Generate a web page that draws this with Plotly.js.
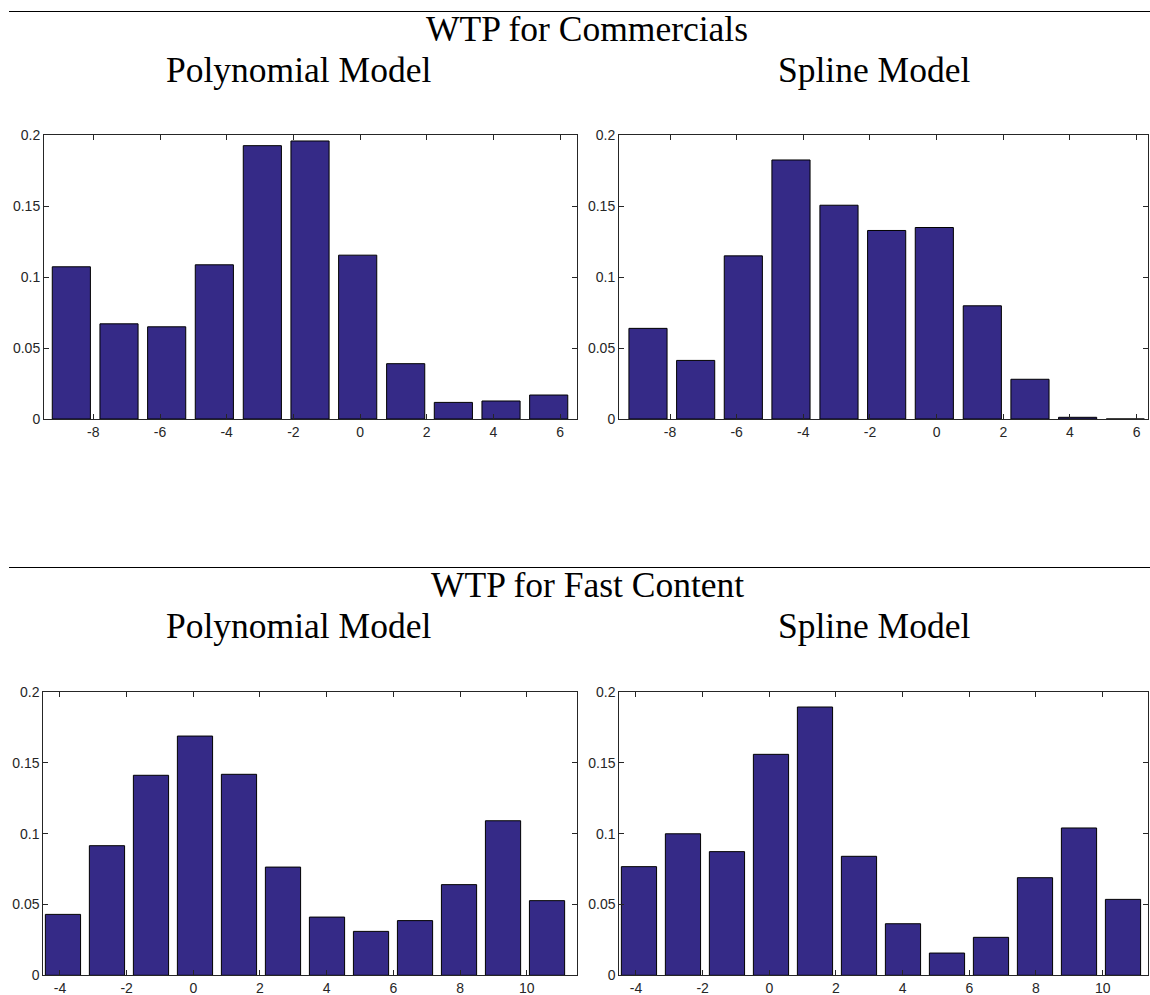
<!DOCTYPE html>
<html>
<head>
<meta charset="utf-8">
<script src="https://cdn.plot.ly/plotly-3.0.1.min.js"></script>
<style>html,body{margin:0;padding:0;background:#fff;}#chart{width:1150px;height:995px;}</style>
</head>
<body>
<div id="chart"></div>
<script>
// ---- data ----
const commBins   = [-8.66, -7.23, -5.80, -4.37, -2.93, -1.50, -0.07, 1.37, 2.80, 4.23, 5.66];
const commPoly   = [0.1073, 0.0671, 0.0650, 0.1087, 0.1927, 0.1960, 0.1155, 0.0390, 0.0117, 0.0127, 0.0169];
const commSpline = [0.0639, 0.0413, 0.1150, 0.1826, 0.1507, 0.1329, 0.1350, 0.0798, 0.0280, 0.0012, 0.0];

const fastBins   = [-3.91, -2.59, -1.27, 0.05, 1.37, 2.69, 4.01, 5.33, 6.65, 7.97, 9.29, 10.61];
const fastPoly   = [0.0430, 0.0915, 0.1412, 0.1689, 0.1419, 0.0764, 0.0411, 0.0310, 0.0386, 0.0640, 0.1091, 0.0527];
const fastSpline = [0.0767, 0.0999, 0.0873, 0.1560, 0.1894, 0.0840, 0.0364, 0.0157, 0.0268, 0.0689, 0.1040, 0.0536];

const commTickVals = [-8, -6, -4, -2, 0, 2, 4, 6];
const commTickText = ['-8', '-6', '-4', '-2', '0', '2', '4', '6'];
const fastTickVals = [-4, -2, 0, 2, 4, 6, 8, 10];
const fastTickText = ['-4', '-2', '0', '2', '4', '6', '8', '10'];
const yTickVals = [0, 0.05, 0.1, 0.15, 0.2];
const yTickText = ['0', '0.05', '0.1', '0.15', '0.2'];

const sectionTitles = ['WTP for Commercials', 'WTP for Fast Content'];
const panelTitles = ['Polynomial Model', 'Spline Model'];

// ---- styling ----
const barColor = '#352a87';
const axisColor = '#262626';
const W = 1150, H = 995;
const px = v => v / W;
const py = v => 1 - v / H;

function bar(x, y, xa, ya, width) {
  return {
    type: 'bar', x: x, y: y, xaxis: xa, yaxis: ya, width: width,
    marker: {color: barColor, line: {color: '#000', width: 1}},
    hoverinfo: 'x+y', showlegend: false
  };
}

const commWidth = 0.8 * (commBins[1] - commBins[0]);
const fastWidth = 0.8 * (fastBins[1] - fastBins[0]);

const data = [
  bar(commBins, commPoly, 'x', 'y', commWidth),
  bar(commBins, commSpline, 'x2', 'y2', commWidth),
  bar(fastBins, fastPoly, 'x3', 'y3', fastWidth),
  bar(fastBins, fastSpline, 'x4', 'y4', fastWidth)
];

const tickFont = {family: '"Liberation Sans", Arial, sans-serif', size: 14, color: axisColor};

function xax(domain, range, anchor, vals, text) {
  return {
    domain: domain, range: range, anchor: anchor,
    showline: true, linecolor: axisColor, linewidth: 1, mirror: 'ticks',
    ticks: 'inside', ticklen: 5, tickcolor: axisColor, tickwidth: 1,
    tickmode: 'array', tickvals: vals, ticktext: text,
    showgrid: false, zeroline: false,
    tickfont: tickFont, fixedrange: true
  };
}
function yax(domain, anchor) {
  return {
    domain: domain, range: [0, 0.2], anchor: anchor,
    showline: true, linecolor: axisColor, linewidth: 1, mirror: 'ticks',
    ticks: 'inside', ticklen: 5, tickcolor: axisColor, tickwidth: 1,
    tickmode: 'array', tickvals: yTickVals, ticktext: yTickText,
    showgrid: false, zeroline: false,
    tickfont: tickFont, fixedrange: true
  };
}

const titleFont = {family: '"Liberation Serif", "Times New Roman", serif', size: 35.5, color: '#000'};

function ann(text, x, y) {
  return {text: text, x: px(x), y: py(y), xref: 'paper', yref: 'paper',
    xanchor: 'center', yanchor: 'middle', showarrow: false, font: titleFont};
}

const layout = {
  width: W, height: H,
  margin: {l: 0, r: 0, t: 0, b: 0, pad: 0},
  paper_bgcolor: '#fff', plot_bgcolor: '#fff',
  bargap: 0,
  xaxis:  xax([px(44), px(576.7)], [-9.48, 6.50], 'y', commTickVals, commTickText),
  yaxis:  yax([py(419), py(135.3)], 'x'),
  xaxis2: xax([px(619), px(1148.3)], [-9.53, 6.35], 'y2', commTickVals, commTickText),
  yaxis2: yax([py(419), py(135.3)], 'x2'),
  xaxis3: xax([px(43.3), px(576.7)], [-4.50, 11.50], 'y3', fastTickVals, fastTickText),
  yaxis3: yax([py(975.3), py(692)], 'x3'),
  xaxis4: xax([px(619.3), px(1148)], [-4.50, 11.36], 'y4', fastTickVals, fastTickText),
  yaxis4: yax([py(975.3), py(692)], 'x4'),
  shapes: [
    {type: 'line', xref: 'paper', yref: 'paper', x0: px(9), x1: 1, y0: py(11.5), y1: py(11.5), line: {color: '#000', width: 1}},
    {type: 'line', xref: 'paper', yref: 'paper', x0: px(9), x1: 1, y0: py(567.5), y1: py(567.5), line: {color: '#000', width: 1}}
  ],
  annotations: [
    ann(sectionTitles[0], 587, 29),
    ann(panelTitles[0], 298, 70),
    ann(panelTitles[1], 874, 70),
    ann(sectionTitles[1], 587, 585),
    ann(panelTitles[0], 298, 626),
    ann(panelTitles[1], 874, 626)
  ]
};

Plotly.newPlot('chart', data, layout, {displayModeBar: false, staticPlot: true});
</script>
</body>
</html>
